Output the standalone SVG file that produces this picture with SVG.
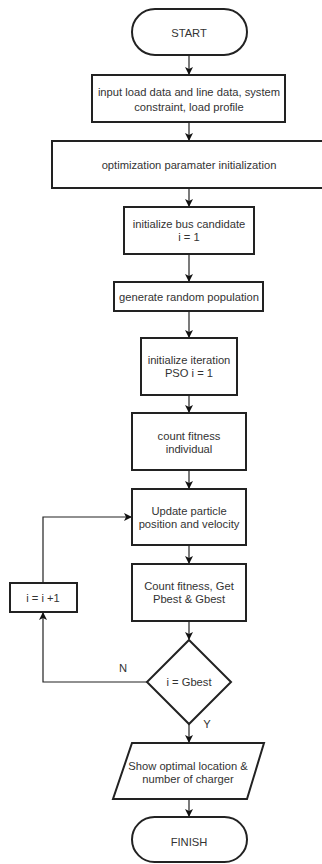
<svg xmlns="http://www.w3.org/2000/svg" width="322" height="864" viewBox="0 0 322 864">
<defs>
<marker id="ah" markerWidth="8" markerHeight="8" refX="7" refY="4" orient="auto" markerUnits="userSpaceOnUse">
<path d="M0,0 L8,4 L0,8 L2,4 Z" fill="#111"/>
</marker>
<style>
.s{fill:#fff;stroke:#222;stroke-width:2}
.t{font-family:"Liberation Sans",Arial,sans-serif;font-size:11.2px;fill:#333;text-anchor:middle;dominant-baseline:central}
.c{fill:none;stroke:#222;stroke-width:1.2;marker-end:url(#ah)}
</style>
</defs>
<rect width="322" height="864" fill="#fff"/>
<g id="connectors">
<line class="c" x1="189" y1="55" x2="189" y2="74"/>
<line class="c" x1="189" y1="122" x2="189" y2="140"/>
<line class="c" x1="189" y1="188" x2="189" y2="206"/>
<line class="c" x1="189" y1="254" x2="189" y2="281"/>
<line class="c" x1="189" y1="311" x2="189" y2="337"/>
<line class="c" x1="189" y1="395" x2="189" y2="412"/>
<line class="c" x1="189" y1="470" x2="189" y2="488"/>
<line class="c" x1="189" y1="545" x2="189" y2="563"/>
<line class="c" x1="189" y1="621" x2="189" y2="639"/>
<line class="c" x1="189" y1="724" x2="189" y2="742"/>
<line class="c" x1="189" y1="799" x2="189" y2="816"/>
<polyline class="c" points="147,682 43,682 43,613"/>
<polyline class="c" points="43,583 43,517 131,517"/>
<text class="t" x="123" y="668">N</text>
<text class="t" x="207" y="724">Y</text>
</g>
<g id="start">
<rect class="s" x="132" y="9" width="115" height="46" rx="23" ry="23"/>
<text class="t" x="189" y="33">START</text>
</g>
<g id="input">
<rect class="s" x="92" y="75" width="193" height="47"/>
<text class="t" x="189" y="92">input load data and line data, system</text>
<text class="t" x="189" y="107">constraint, load profile</text>
</g>
<g id="optinit">
<rect class="s" x="52" y="141" width="274" height="47"/>
<text class="t" x="189" y="165">optimization paramater initialization</text>
</g>
<g id="buscand">
<rect class="s" x="124" y="207" width="130" height="47"/>
<text class="t" x="189" y="224">initialize bus candidate</text>
<text class="t" x="189" y="237">i = 1</text>
</g>
<g id="genpop">
<rect class="s" x="114" y="282" width="149" height="29"/>
<text class="t" x="189" y="297">generate random population</text>
</g>
<g id="inititer">
<rect class="s" x="141" y="338" width="96" height="57"/>
<text class="t" x="189" y="360">initialize iteration</text>
<text class="t" x="189" y="373">PSO i = 1</text>
</g>
<g id="countfit">
<rect class="s" x="132" y="413" width="114" height="57"/>
<text class="t" x="189" y="436">count fitness</text>
<text class="t" x="189" y="449">individual</text>
</g>
<g id="update">
<rect class="s" x="132" y="489" width="114" height="56"/>
<text class="t" x="189" y="511">Update particle</text>
<text class="t" x="189" y="524">position and velocity</text>
</g>
<g id="pbest">
<rect class="s" x="132" y="564" width="114" height="57"/>
<text class="t" x="189" y="586">Count fitness, Get</text>
<text class="t" x="189" y="599">Pbest &amp; Gbest</text>
</g>
<g id="incr">
<rect class="s" x="10" y="583" width="67" height="29"/>
<text class="t" x="43" y="598">i = i +1</text>
</g>
<g id="decision">
<polygon class="s" points="189,640 231,682 189,724 147,682"/>
<text class="t" x="189" y="682">i = Gbest</text>
</g>
<g id="show">
<polygon class="s" points="132,743 264,743 247,799 113,799"/>
<text class="t" x="188" y="766">Show optimal location &amp;</text>
<text class="t" x="188" y="779">number of charger</text>
</g>
<g id="finish">
<rect class="s" x="132" y="817" width="115" height="45" rx="22.5" ry="22.5"/>
<text class="t" x="189" y="842">FINISH</text>
</g>
</svg>
